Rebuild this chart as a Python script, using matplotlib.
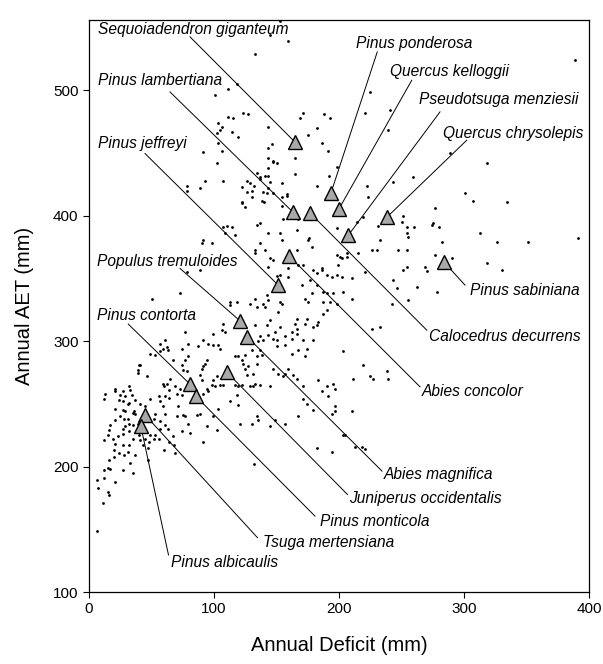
import matplotlib
matplotlib.use('Agg')
import matplotlib.pyplot as plt
from matplotlib import rcParams

rcParams.update({'font.family': ['Liberation Sans', 'DejaVu Sans'], 'font.size': 11})

# plot points: annual deficit (mm), annual AET (mm)
pts = [
    (145,544),(159,539),(133,529),(171,482),(169,478),(188,481),(193,478),(143,471),(182,470),(221,482),
    (225,499),(241,484),(239,468),(175,464),(186,458),(146,457),(191,452),(143,446),(147,444),(150,442),
    (165,446),(198,439),(192,432),(143,438),(143,432),(165,433),(134,434),(137,431),(132,424),(154,426),
    (182,424),(222,424),(243,427),(259,431),(139,419),(140,411),(158,417),(130,420),(223,415),(154,408),
    (167,397),(155,397),(166,389),(137,394),(134,393),(143,386),(153,386),(154,381),(176,382),(198,390),
    (214,395),(219,399),(231,392),(251,400),(250,395),(254,386),(260,391),(274,393),(277,406),(280,391),
    (282,379),(254,373),(247,373),(233,381),(226,373),(230,373),(215,370),(201,367),(206,370),(145,366),
    (133,373),(141,373),(166,373),(186,358),(199,361),(153,555),
    (111,501),(118,505),(101,496),(103,474),(106,471),(105,468),(111,479),(115,478),(123,482),(127,481),
    (114,467),(119,463),(102,466),(91,451),(103,458),(106,452),(102,442),(107,428),(93,428),(78,424),
    (78,420),(89,422),(122,423),(129,426),(126,419),(130,415),(122,411),(125,407),(138,412),(142,418),
    (143,454),(141,432),(137,429),(147,443),(145,427),(143,422),(147,418),(154,415),(158,416),(126,428),
    (289,450),(318,442),(301,418),(307,412),(334,411),(313,386),(326,379),(351,379),(391,382),(290,366),
    (318,362),(330,357),(277,369),(269,359),(270,356),(243,349),(262,343),(278,339),(254,359),(254,391),
    (255,383),(275,394),(175,381),(178,375),(198,369),(202,366),(206,367),(389,524),
    (251,357),(246,342),(242,330),(255,333),(226,310),(233,311),(227,270),(238,276),(239,270),
    (205,225),(218,216),(221,214),(132,202),
    (143,359),(159,358),(150,352),(153,353),(159,351),(167,361),(171,361),(179,357),(182,354),(186,357),
    (190,353),(194,351),(198,353),(202,351),(210,350),(177,349),(170,345),(182,345),(187,339),(190,338),
    (195,338),(203,339),(210,334),(178,338),(173,334),(175,331),(187,331),(193,331),(198,330),(221,355),
    (187,322),(190,325),(183,315),(182,313),(179,311),(174,318),(173,314),(166,318),(165,314),(153,311),
    (166,310),(162,307),(166,306),(162,302),(171,301),(179,301),(174,294),(173,288),(167,293),(162,290),
    (157,297),(150,296),(157,304),(147,302),(150,301),(143,305),(139,301),(137,304),(145,317),(149,307),
    (142,313),(133,313),(135,300),(143,333),(142,337),(139,330),(141,327),(153,331),(154,330),(151,323),
    (129,330),(134,327),(133,334),(118,331),(113,331),(113,329),(107,314),(106,309),(109,307),(99,306),
    (91,301),(77,307),(74,294),(79,298),(87,296),(95,298),(99,297),(103,297),(105,294),(89,357),
    (78,355),(73,338),(117,288),(119,288),(125,289),(130,293),(134,288),(138,289),(137,293),(122,285),
    (123,282),(125,278),(127,280),(134,282),(131,274),(137,265),(131,264),(145,264),(147,278),(151,274),
    (157,274),(159,278),(155,272),(163,273),(166,270),(171,264),(190,264),(195,266),(197,262),(183,269),
    (186,260),(174,250),(171,254),(179,245),(191,256),(197,248),(194,242),(197,244),(210,244),(211,270),
    (203,292),(225,272),(219,281),(203,225),(213,216),(182,215),(194,212),(167,240),(157,234),(149,237),
    (145,232),(134,240),(135,237),(130,234),(121,234),(119,249),(113,252),(103,246),(99,240),(94,232),
    (102,229),(91,220),(81,227),(74,228),(70,240),(71,248),(75,241),(77,240),(79,234),(86,241),
    (89,242),(91,258),(95,260),(98,265),(101,264),(105,265),(107,265),(99,269),(102,272),(94,262),
    (90,269),(90,278),(91,280),(93,282),(94,285),(89,273),(78,276),(75,277),(74,281),(77,285),
    (79,288),(67,285),(73,262),(74,257),(70,258),(69,264),(117,265),(119,264),(118,257),(122,265),
    (129,264),(133,266),(126,273),
    (62,295),(50,334),(40,281),(61,301),(57,298),(59,294),(63,293),(49,290),(53,289),(57,292),
    (41,281),(39,277),(62,266),(90,378),(91,381),(98,378),(107,391),(110,392),(114,391),(109,386),
    (117,385),(122,410),(137,378),(133,370),(147,365),
    (39,275),(46,272),(59,266),(60,264),(65,270),(64,261),(21,262),(21,260),(27,260),(32,264),
    (33,261),(13,258),(25,257),(29,256),(34,257),(24,253),(12,254),(27,252),(31,250),(32,251),
    (37,253),(41,250),(49,254),(45,248),(56,256),(57,252),(59,248),(61,242),(53,242),(52,238),
    (57,236),(61,233),(57,230),(63,230),(53,225),(52,222),(49,225),(36,244),(37,242),(35,243),
    (27,245),(29,244),(25,240),(28,238),(21,237),(31,238),(32,234),(35,233),(39,234),(29,232),
    (27,230),(17,233),(16,229),(15,225),(12,221),(19,222),(23,224),(27,226),(32,228),(35,222),
    (40,225),(41,221),(45,222),(48,220),(43,217),(47,215),(32,217),(27,217),(21,218),(20,213),
    (24,211),(31,212),(37,209),(28,209),(16,205),(20,208),(12,197),(15,199),(17,198),(27,197),
    (33,203),(35,195),(12,191),(21,188),(7,183),(15,180),(16,177),(11,171),(47,205),(56,222),
    (67,224),(60,213),(64,220),(61,256),(64,255),(68,217),(69,211),(6,149),(6,189),(21,246),
]
deficit = [p[0] for p in pts]
aet = [p[1] for p in pts]

species = ['Sequoiadendron giganteum', 'Pinus lambertiana', 'Pinus jeffreyi', 'Populus tremuloides',
           'Pinus contorta', 'Pinus ponderosa', 'Quercus kelloggii', 'Pseudotsuga menziesii',
           'Quercus chrysolepis', 'Pinus sabiniana', 'Calocedrus decurrens', 'Abies concolor',
           'Abies magnifica', 'Juniperus occidentalis', 'Pinus monticola', 'Tsuga mertensiana',
           'Pinus albicaulis']
sp_deficit = [165, 163, 151.5, 121, 81, 193.5, 200, 207.5, 238.5, 284, 177, 160, 126.5, 110, 85.5, 45, 41.5]
sp_aet = [458.5, 403, 344.5, 316, 265.5, 418, 405.5, 384.5, 399, 363, 402, 368, 303.5, 275.5, 256, 241, 232]

# label layout (text left/centre, and where the leader line leaves the label)
label_pos = [(7.4, 548.5), (7.4, 508), (7.4, 457.6), (6.2, 363.2), (6.2, 320.7), (213.6, 537.3),
             (240.8, 514.7), (264.2, 492.9), (283.4, 465.6), (304.8, 340.7), (272.2, 303.5),
             (266.2, 259.6), (235.6, 193.4), (208.2, 174.7), (184.8, 156.3), (139, 139.5), (65.8, 123.3)]
line_start = [(80.8, 542.6), (64.8, 498.7), (44.8, 449.6), (72.8, 358), (31.4, 313.6), (230.6, 530.6),
              (258.2, 508), (280.8, 482.8), (302.2, 460.2), (300.8, 344.7), (270.2, 308.8),
              (264.8, 263.6), (234.4, 196.4), (206.8, 177.7), (180.8, 160.5), (134.8, 143.3), (63.6, 129.5)]

fig = plt.figure(figsize=(6.03, 6.64), dpi=100)
ax = fig.add_axes([0.1476, 0.1084, 0.8292, 0.8614])

ax.plot(deficit, aet, 'o', color='k', ms=2.0, mec='none', zorder=2)

for i in range(len(species)):
    ax.plot([line_start[i][0], sp_deficit[i]], [line_start[i][1], sp_aet[i]], '-', color='k', lw=0.7, zorder=3)
    ax.text(label_pos[i][0], label_pos[i][1], species[i], style='italic', fontsize=11.2,
            ha='left', va='center', zorder=5)

ax.plot(sp_deficit, sp_aet, '^', ms=9.5, mfc='#a9a9a9', mec='k', mew=1.0, zorder=4)

ax.set_xlim(0, 400)
ax.set_ylim(100, 556)
ax.set_xticks([0, 100, 200, 300, 400])
ax.set_yticks([100, 200, 300, 400, 500])
ax.tick_params(axis='both', direction='out', length=4, width=0.8, labelsize=11)
for s in ax.spines.values():
    s.set_linewidth(0.9)

ax.set_xlabel('Annual Deficit (mm)', fontsize=14.5, labelpad=14)
ax.set_ylabel('Annual AET (mm)', fontsize=14.5, labelpad=14)

fig.savefig('out.png', dpi=100)
